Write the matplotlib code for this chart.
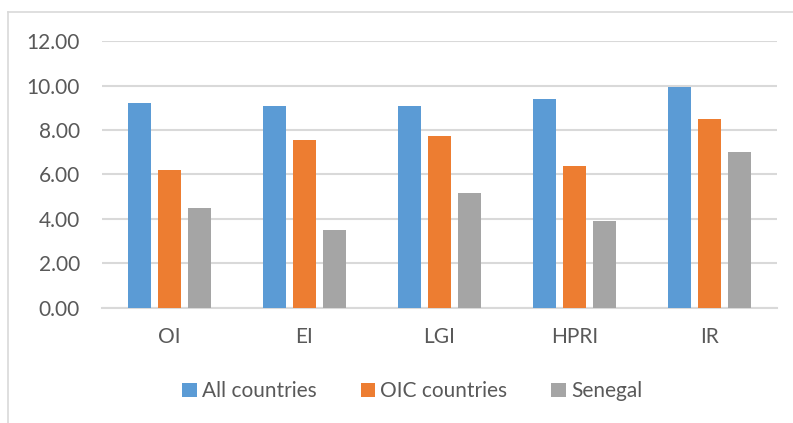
import matplotlib.pyplot as plt
import numpy as np
from matplotlib.lines import Line2D

categories = ["OI", "EI", "LGI", "HPRI", "IR"]
series_names = ["All countries", "OIC countries", "Senegal"]
all_countries = [9.21, 9.07, 9.07, 9.39, 9.94]
oic_countries = [6.19, 7.57, 7.72, 6.37, 8.50]
senegal = [4.48, 3.50, 5.17, 3.89, 7.01]
colors = ["#5B9BD5", "#ED7D31", "#A5A5A5"]
yticks = [0, 2, 4, 6, 8, 10, 12]

plt.rcParams['font.family'] = ['Lato', 'DejaVu Sans']
fig = plt.figure(figsize=(7.93, 4.23), dpi=100)
ax = fig.add_axes([0.1286, 0.2726, 0.8512, 0.6298])

x = np.arange(len(categories))
width = 0.1755
step = 0.2222
for i, (vals, c, name) in enumerate(zip([all_countries, oic_countries, senegal], colors, series_names)):
    ax.bar(x + (i - 1) * step, vals, width=width, color=c, label=name, zorder=3)

ax.set_xlim(-0.5, len(categories) - 0.5)
ax.set_ylim(0, 12)
ax.set_yticks(yticks)
ax.set_yticklabels([f"{v:.2f}" for v in yticks])
ax.set_xticks(x)
ax.set_xticklabels(categories)
ax.grid(axis='y', color='#D9D9D9', linewidth=1.5, zorder=0)
for s in ['top', 'right', 'left']:
    ax.spines[s].set_visible(False)
ax.spines['bottom'].set_color('#D9D9D9')
ax.spines['bottom'].set_linewidth(1.5)
ax.tick_params(axis='both', length=0, labelsize=15, colors='#595959')
ax.tick_params(axis='y', pad=16)
ax.tick_params(axis='x', pad=14)

leg = fig.legend(loc='center', bbox_to_anchor=(0.52, 0.075), ncol=3, frameon=False,
                 fontsize=15, handlelength=0.7, handleheight=0.7, handletextpad=0.25,
                 columnspacing=2.1, labelcolor='#595959')

# outer border (partially visible)
fig.add_artist(Line2D([0.0095, 0.0095], [0, 1 - 12.3/423], color='#D9D9D9', linewidth=1.2, transform=fig.transFigure))
fig.add_artist(Line2D([0.0095, 1], [1 - 12.3/423, 1 - 12.3/423], color='#D9D9D9', linewidth=1.2, transform=fig.transFigure))

fig.savefig("out.png", dpi=100)
